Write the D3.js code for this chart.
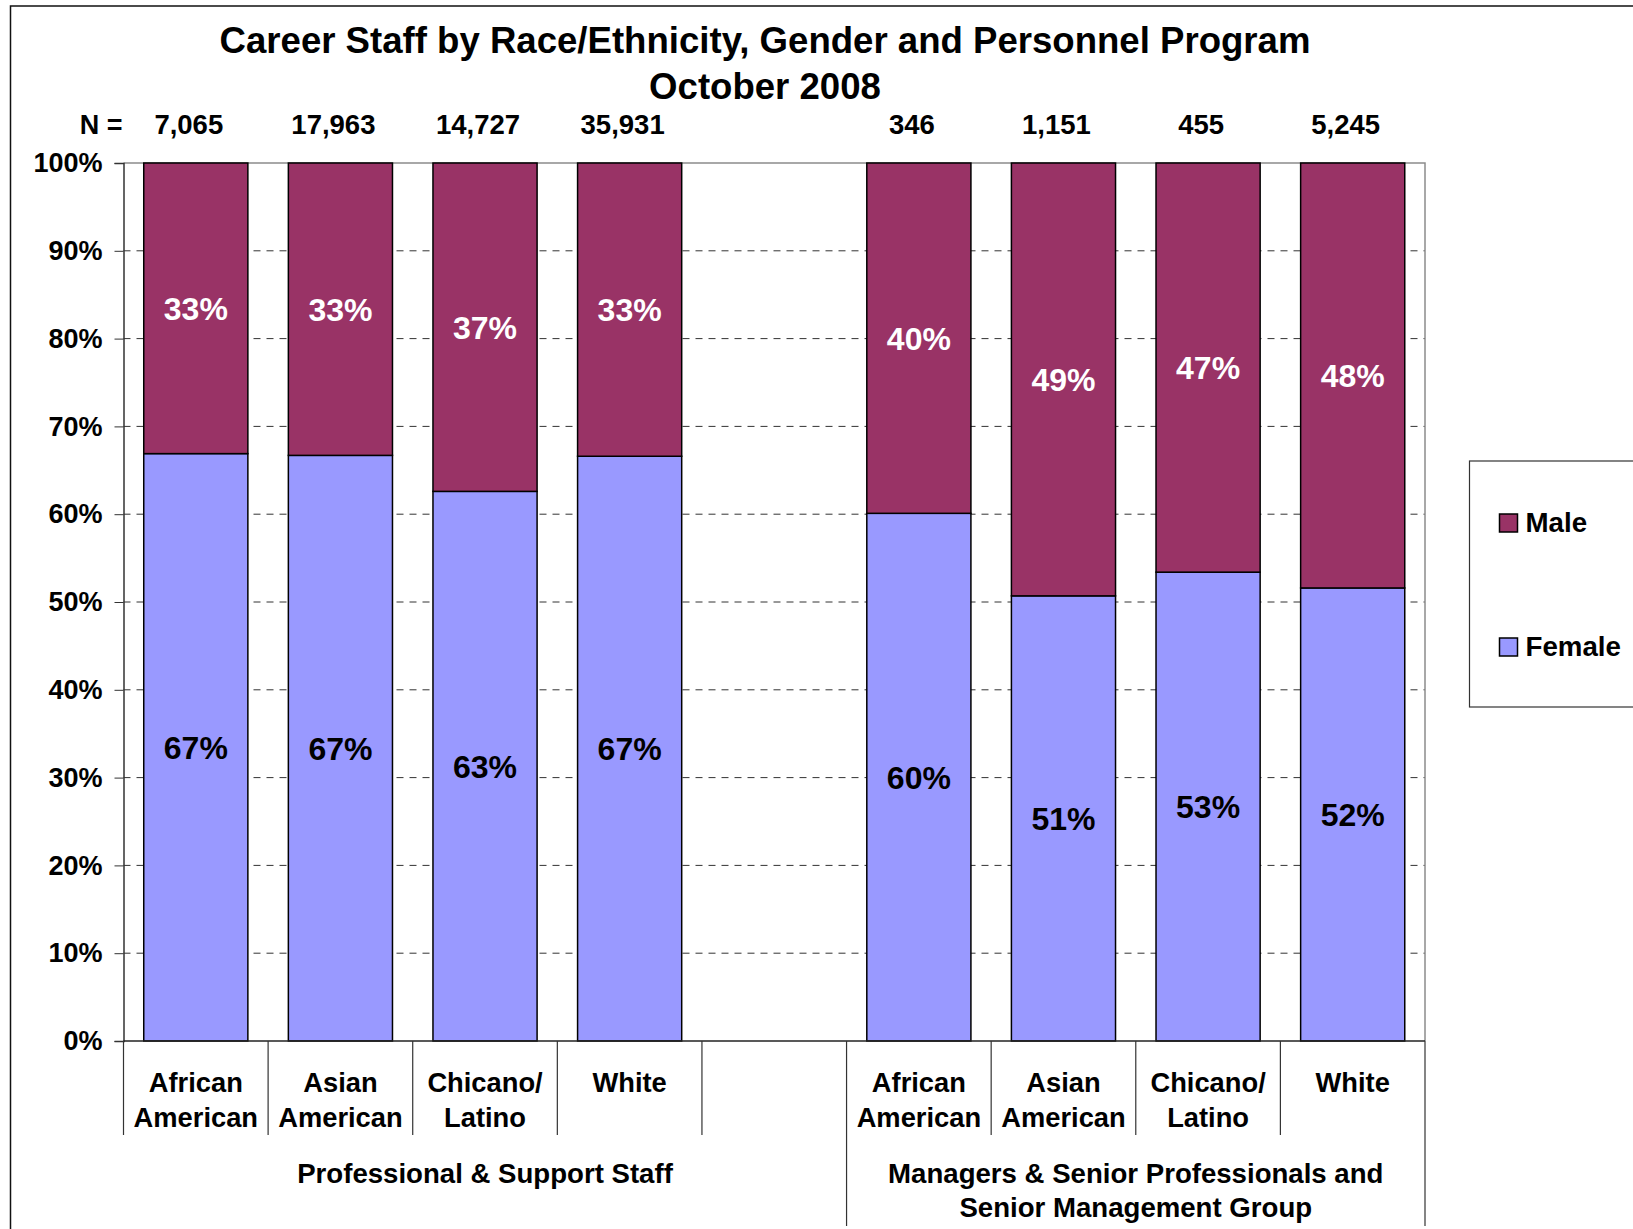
<!DOCTYPE html>
<html>
<head>
<meta charset="utf-8">
<script src="https://cdn.jsdelivr.net/npm/d3@7"></script>
<style>
  body { margin: 0; background: #fff; }
  svg text { font-family: "Liberation Sans", Arial, sans-serif; font-weight: bold; }
</style>
</head>
<body>
<div id="chart"></div>
<script>
// Data
const ethnicities = [["African", "American"], ["Asian", "American"], ["Chicano/", "Latino"], ["White"]];
const groupNames = [["Professional & Support Staff"], ["Managers & Senior Professionals and", "Senior Management Group"]];
const headcounts = [[7065, 17963, 14727, 35931], [346, 1151, 455, 5245]];
const femalePct = [[66.9, 66.7, 62.6, 66.6], [60.1, 50.7, 53.4, 51.6]];
const malePct = [[33.1, 33.3, 37.4, 33.4], [39.9, 49.3, 46.6, 48.4]];
const yTicks = [0, 10, 20, 30, 40, 50, 60, 70, 80, 90, 100];
const seriesNames = ["Male", "Female"];
const seriesColors = {Male: "#993366", Female: "#9999ff"};

const width = 1633, height = 1229;
const margin = {top: 163, right: 208, bottom: 188, left: 123.5};
const plotW = width - margin.left - margin.right;
const plotH = height - margin.top - margin.bottom;

// flat rows, with an empty slot between the two groups
const rows = [];
groupNames.forEach((g, gi) => {
  ethnicities.forEach((e, ei) => {
    rows.push({key: gi + "-" + ei, group: gi, lines: e, n: headcounts[gi][ei],
      Female: femalePct[gi][ei], Male: malePct[gi][ei]});
  });
  if (gi === 0) rows.push({key: "gap", group: 0, lines: [], gap: true});
});
const bars = rows.filter(d => !d.gap);

const svg = d3.select("#chart").append("svg")
  .attr("width", width)
  .attr("height", height);

// outer frame of the chart
svg.append("rect")
  .attr("x", 10.5).attr("y", 6)
  .attr("width", width + 20).attr("height", height + 20)
  .attr("fill", "none").attr("stroke", "#111").attr("stroke-width", 1.5);

const g = svg.append("g").attr("transform", `translate(${margin.left},${margin.top})`);

const x = d3.scaleBand()
  .domain(rows.map(d => d.key))
  .range([0, plotW])
  .paddingInner(0.28)
  .paddingOuter(0.14);
const y = d3.scaleLinear().domain([0, 100]).range([plotH, 0]);
const slotStart = k => x(k) - x.step() * x.paddingInner() / 2;

// gridlines
g.selectAll(".grid")
  .data(yTicks.filter(t => t > 0 && t < 100))
  .enter().append("line")
  .attr("x1", 0).attr("x2", plotW)
  .attr("y1", d => y(d)).attr("y2", d => y(d))
  .attr("stroke", "#333").attr("stroke-width", 1)
  .attr("stroke-dasharray", "7,6");

// plot border (top/right)
g.append("path")
  .attr("d", `M0,${y(100)}H${plotW}V${y(0)}`)
  .attr("fill", "none").attr("stroke", "#8c8c8c").attr("stroke-width", 1.5);

// y axis
const yAxis = g.append("g")
  .call(d3.axisLeft(y).tickValues(yTicks).tickFormat(d => d + "%").tickSize(9).tickPadding(12));
yAxis.select(".domain").attr("stroke", "#333").attr("stroke-width", 1.5);
yAxis.selectAll(".tick line").attr("stroke", "#333");
yAxis.selectAll(".tick text")
  .attr("font-size", 27).attr("fill", "#000")
  .attr("font-family", "Liberation Sans, Arial, sans-serif");

// stacked bars
const stack = d3.stack().keys(["Female", "Male"]);
const series = stack(bars);

g.selectAll(".series")
  .data(series)
  .enter().append("g")
  .attr("fill", s => seriesColors[s.key])
  .selectAll("rect")
  .data(s => s)
  .enter().append("rect")
  .attr("x", d => x(d.data.key))
  .attr("width", x.bandwidth())
  .attr("y", d => y(d[1]))
  .attr("height", d => y(d[0]) - y(d[1]))
  .attr("stroke", "#000").attr("stroke-width", 1.5);

// value labels
series.forEach(s => {
  g.selectAll(".lbl-" + s.key)
    .data(s)
    .enter().append("text")
    .attr("x", d => x(d.data.key) + x.bandwidth() / 2)
    .attr("y", d => (y(d[0]) + y(d[1])) / 2)
    .attr("dy", "0.36em")
    .attr("text-anchor", "middle")
    .attr("font-size", 32)
    .attr("fill", s.key === "Male" ? "#fff" : "#000")
    .text(d => Math.round(d.data[s.key]) + "%");
});

// x axis baseline
g.append("line")
  .attr("x1", 0).attr("x2", plotW)
  .attr("y1", plotH).attr("y2", plotH)
  .attr("stroke", "#222").attr("stroke-width", 1.5);

// category separators below axis
const groupStart = slotStart(rows.find(d => d.group === 1).key);
const bounds = rows.map(d => slotStart(d.key)).concat([plotW]);
g.selectAll(".sep")
  .data(bounds)
  .enter().append("line")
  .attr("x1", d => d).attr("x2", d => d)
  .attr("y1", plotH)
  .attr("y2", d => (d === 0 || d === plotW || d === groupStart) ? plotH + 185 : plotH + 94)
  .attr("stroke", "#333").attr("stroke-width", 1.2);

// category labels
g.selectAll(".cat")
  .data(bars)
  .enter().append("text")
  .attr("text-anchor", "middle")
  .attr("font-size", 27.3)
  .attr("transform", d => `translate(${x(d.key) + x.bandwidth() / 2},${plotH + 51})`)
  .selectAll("tspan")
  .data(d => d.lines)
  .enter().append("tspan")
  .attr("x", 0)
  .attr("y", (d, i) => i * 35)
  .text(d => d);

// group labels
const groupSpans = groupNames.map((name, gi) => {
  const ks = rows.filter(d => d.group === gi).map(d => d.key);
  const x0 = slotStart(ks[0]);
  const x1 = slotStart(ks[ks.length - 1]) + x.step();
  return {lines: name, cx: (x0 + x1) / 2};
});
g.selectAll(".grp")
  .data(groupSpans)
  .enter().append("text")
  .attr("text-anchor", "middle")
  .attr("font-size", 27.6)
  .attr("transform", d => `translate(${d.cx},${plotH + 142})`)
  .selectAll("tspan")
  .data(d => d.lines)
  .enter().append("tspan")
  .attr("x", 0)
  .attr("y", (d, i) => i * 33.5)
  .text(d => d);

// N row
g.append("text")
  .attr("x", -1).attr("y", -29)
  .attr("text-anchor", "end")
  .attr("font-size", 27)
  .text("N =");
g.selectAll(".nval")
  .data(bars)
  .enter().append("text")
  .attr("x", d => x(d.key) + x.bandwidth() / 2 - 7)
  .attr("y", -29)
  .attr("text-anchor", "middle")
  .attr("font-size", 27.5)
  .text(d => d3.format(",")(d.n));

// title
svg.append("text")
  .attr("x", 765).attr("y", 53)
  .attr("text-anchor", "middle")
  .attr("font-size", 36.6)
  .selectAll("tspan")
  .data(["Career Staff by Race/Ethnicity, Gender and Personnel Program", "October 2008"])
  .enter().append("tspan")
  .attr("x", 765)
  .attr("y", (d, i) => 53 + i * 46)
  .text(d => d);

// legend
const legend = svg.append("g").attr("transform", "translate(1469.5,461)");
legend.append("rect")
  .attr("width", 220).attr("height", 246)
  .attr("fill", "#fff").attr("stroke", "#333").attr("stroke-width", 1.2);
const li = legend.selectAll(".li")
  .data(seriesNames)
  .enter().append("g")
  .attr("transform", (d, i) => `translate(30,${53 + i * 124})`);
li.append("rect")
  .attr("width", 18).attr("height", 18)
  .attr("fill", d => seriesColors[d])
  .attr("stroke", "#000").attr("stroke-width", 1.5);
li.append("text")
  .attr("x", 26).attr("y", 18)
  .attr("font-size", 27.7)
  .text(d => d);
</script>
</body>
</html>
